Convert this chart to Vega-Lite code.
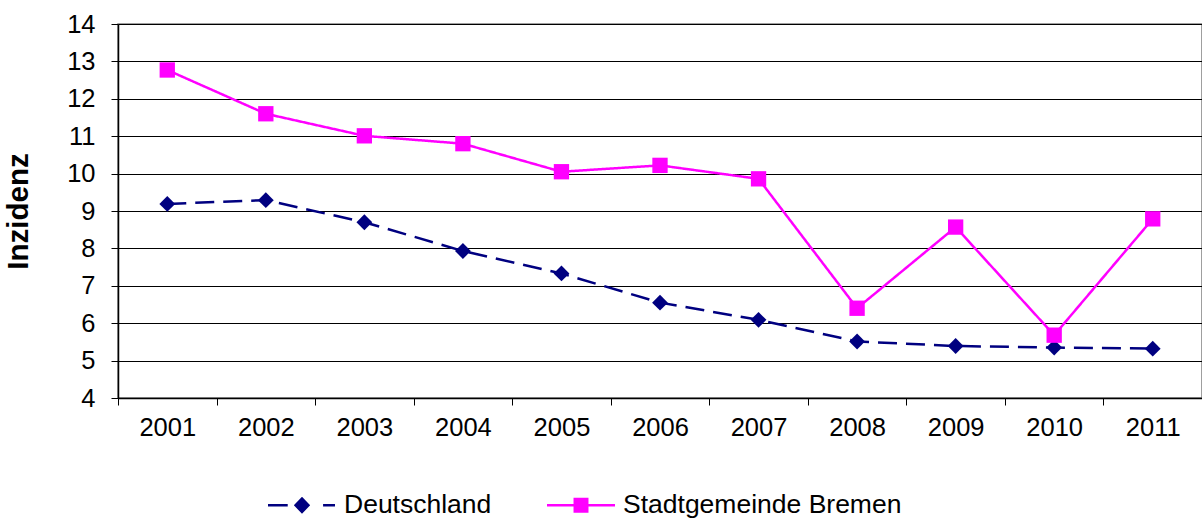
{
  "$schema": "https://vega.github.io/schema/vega-lite/v6.json",
  "width": 1084,
  "height": 374,
  "autosize": {"type": "none"},
  "padding": {"left": 118, "top": 24, "right": 0, "bottom": 122},
  "background": "white",
  "config": {
    "font": "Liberation Sans",
    "view": {"stroke": "#808080", "strokeWidth": 1.5}
  },
  "data": {
    "values": [
      {"year": "2001", "series": "Deutschland", "value": 9.19},
      {"year": "2002", "series": "Deutschland", "value": 9.29},
      {"year": "2003", "series": "Deutschland", "value": 8.70},
      {"year": "2004", "series": "Deutschland", "value": 7.93},
      {"year": "2005", "series": "Deutschland", "value": 7.33},
      {"year": "2006", "series": "Deutschland", "value": 6.55},
      {"year": "2007", "series": "Deutschland", "value": 6.09},
      {"year": "2008", "series": "Deutschland", "value": 5.51},
      {"year": "2009", "series": "Deutschland", "value": 5.39},
      {"year": "2010", "series": "Deutschland", "value": 5.35},
      {"year": "2011", "series": "Deutschland", "value": 5.32},
      {"year": "2001", "series": "Stadtgemeinde Bremen", "value": 12.77},
      {"year": "2002", "series": "Stadtgemeinde Bremen", "value": 11.60},
      {"year": "2003", "series": "Stadtgemeinde Bremen", "value": 11.01},
      {"year": "2004", "series": "Stadtgemeinde Bremen", "value": 10.80},
      {"year": "2005", "series": "Stadtgemeinde Bremen", "value": 10.05},
      {"year": "2006", "series": "Stadtgemeinde Bremen", "value": 10.22},
      {"year": "2007", "series": "Stadtgemeinde Bremen", "value": 9.86},
      {"year": "2008", "series": "Stadtgemeinde Bremen", "value": 6.40},
      {"year": "2009", "series": "Stadtgemeinde Bremen", "value": 8.57},
      {"year": "2010", "series": "Stadtgemeinde Bremen", "value": 5.68},
      {"year": "2011", "series": "Stadtgemeinde Bremen", "value": 8.79}
    ]
  },
  "encoding": {
    "x": {
      "field": "year",
      "type": "ordinal",
      "scale": {"type": "band", "paddingInner": 0, "paddingOuter": 0},
      "axis": {
        "title": null,
        "labelAngle": 0,
        "labelFontSize": 25.5,
        "labelColor": "#000000",
        "labelPadding": 10,
        "tickBand": "extent",
        "tickSize": 7,
        "tickColor": "#000000",
        "domainColor": "#000000",
        "domainWidth": 1.5,
        "grid": false
      }
    },
    "y": {
      "field": "value",
      "type": "quantitative",
      "scale": {"domain": [4, 14], "nice": false, "zero": false},
      "axis": {
        "title": "Inzidenz",
        "titleFontSize": 29.5,
        "titleFontWeight": "bold",
        "titleColor": "#000000",
        "titlePadding": 33,
        "values": [4, 5, 6, 7, 8, 9, 10, 11, 12, 13, 14],
        "labelFontSize": 25.5,
        "labelColor": "#000000",
        "labelPadding": 16,
        "tickSize": 7,
        "tickColor": "#000000",
        "domainColor": "#000000",
        "domainWidth": 1.5,
        "grid": true,
        "gridColor": "#000000",
        "gridWidth": 1
      }
    }
  },
  "layer": [
    {
      "mark": {"type": "line", "strokeWidth": 2.5},
      "encoding": {
        "color": {
          "field": "series",
          "type": "nominal",
          "scale": {"domain": ["Deutschland", "Stadtgemeinde Bremen"], "range": ["#000080", "#FF00FF"]},
          "legend": null
        },
        "strokeDash": {
          "field": "series",
          "type": "nominal",
          "scale": {"domain": ["Deutschland", "Stadtgemeinde Bremen"], "range": [[19, 9], [1, 0]]},
          "legend": null
        }
      }
    },
    {
      "mark": {"type": "point", "filled": true, "opacity": 1},
      "encoding": {
        "color": {
          "field": "series",
          "type": "nominal",
          "scale": {"domain": ["Deutschland", "Stadtgemeinde Bremen"], "range": ["#000080", "#FF00FF"]},
          "legend": null
        },
        "shape": {
          "field": "series",
          "type": "nominal",
          "scale": {"domain": ["Deutschland", "Stadtgemeinde Bremen"], "range": ["diamond", "square"]},
          "legend": null
        },
        "size": {
          "field": "series",
          "type": "nominal",
          "scale": {"domain": ["Deutschland", "Stadtgemeinde Bremen"], "range": [250, 235]},
          "legend": null
        }
      }
    },
    {
      "mark": {"type": "point", "filled": true, "opacity": 0},
      "encoding": {
        "color": {
          "field": "series",
          "type": "nominal",
          "scale": {"domain": ["Deutschland", "Stadtgemeinde Bremen"], "range": ["#000080", "#FF00FF"]},
          "legend": {
            "title": null,
            "orient": "none",
            "direction": "horizontal",
            "legendX": 150,
            "legendY": 447,
            "labelFontSize": 26.5,
            "labelColor": "#000000",
            "labelOffset": 8,
            "labelLimit": 0,
            "columnPadding": 55,
            "symbolSize": 4624,
            "symbolOpacity": 1,
            "symbolStrokeWidth": 0,
            "padding": 0
          }
        },
        "shape": {
          "field": "series",
          "type": "nominal",
          "scale": {
            "domain": ["Deutschland", "Stadtgemeinde Bremen"],
            "range": [
              "M-1,-0.04H-0.42V0.04H-1Z M0,-0.25L0.24,0L0,0.25L-0.24,0Z M0.62,-0.04H0.97V0.04H0.62Z",
              "M-1,-0.035H1V0.035H-1Z M-0.22,-0.22H0.22V0.22H-0.22Z"
            ]
          },
          "legend": {
            "title": null,
            "orient": "none",
            "direction": "horizontal",
            "legendX": 150,
            "legendY": 447,
            "labelFontSize": 26.5,
            "labelColor": "#000000",
            "labelOffset": 8,
            "labelLimit": 0,
            "columnPadding": 55,
            "symbolSize": 4624,
            "symbolOpacity": 1,
            "symbolStrokeWidth": 0,
            "padding": 0
          }
        }
      }
    }
  ],
  "resolve": {
    "scale": {"color": "independent", "shape": "independent", "strokeDash": "independent", "size": "independent"}
  }
}
